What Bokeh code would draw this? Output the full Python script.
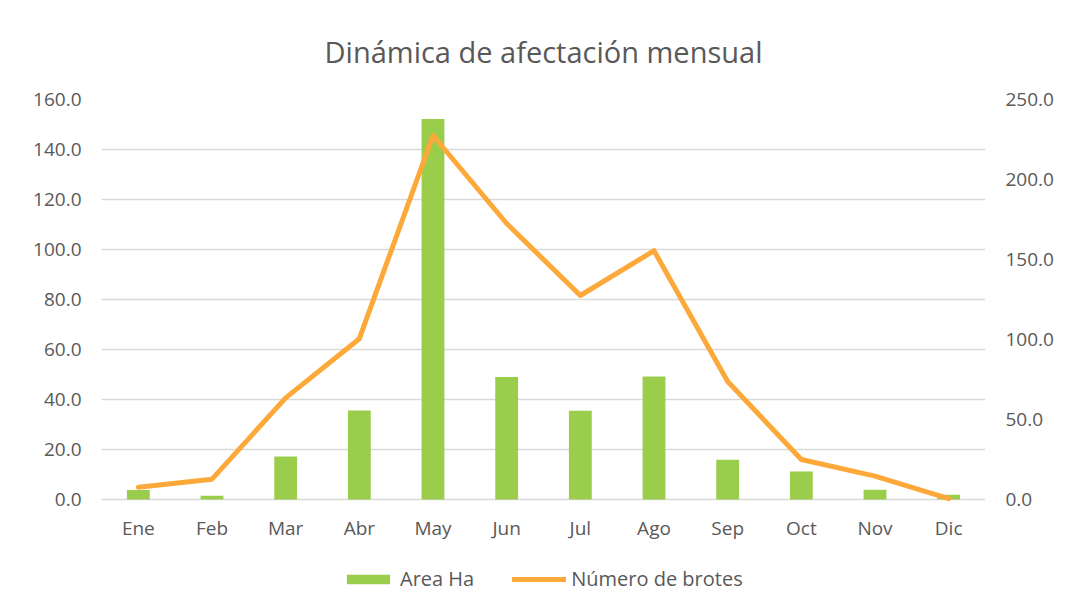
from bokeh.plotting import figure
from bokeh.models import (Range1d, LinearAxis, FixedTicker, NumeralTickFormatter,
                          Legend, LegendItem, ColumnDataSource, FactorRange, Title)
from bokeh.core.properties import value
from bokeh.embed import file_html
from bokeh.resources import INLINE

months = ["Ene", "Feb", "Mar", "Abr", "May", "Jun", "Jul", "Ago", "Sep", "Oct", "Nov", "Dic"]
area_ha = [3.8, 1.5, 17.2, 35.6, 152.2, 49.0, 35.5, 49.2, 15.9, 11.2, 3.9, 1.9]
num_brotes = [7.7, 12.7, 63.5, 100.5, 227.5, 172.5, 127.5, 155.5, 73.8, 25.0, 14.6, 0.5]
left_ticks = [0, 20, 40, 60, 80, 100, 120, 140, 160]
right_ticks = [0, 50, 100, 150, 200, 250]

FONT = "Open Sans"
TXT = "#595959"
GREEN = "#9BCD4C"
ORANGE = "#FDA93A"

# left axis: 0..160 over 400px; frame extends 100px below zero for labels + legend
LEFT_MIN, LEFT_MAX = -40, 160
RIGHT_MIN, RIGHT_MAX = -62.5, 250
LABEL_Y = -11.2

src = ColumnDataSource(dict(m=months, a=area_ha, b=num_brotes,
                            ly=[LABEL_Y] * len(months)))

p = figure(frame_width=884, frame_height=500, output_backend="svg", toolbar_location=None,
           x_range=FactorRange(*months, range_padding=0), y_range=Range1d(LEFT_MIN, LEFT_MAX),
           min_border_left=101, min_border_right=76, min_border_top=97, min_border_bottom=4)
p.title = None
t = Title(text="Dinámica de afectación mensual", align="center", text_font=FONT,
          text_font_size="29px", text_color=TXT, text_font_style="normal", standoff=58)
p.add_layout(t, "above")

p.extra_y_ranges = {"right": Range1d(RIGHT_MIN, RIGHT_MAX)}
p.outline_line_color = None
p.background_fill_color = "white"
p.border_fill_color = "white"

bars = p.vbar(x="m", top="a", width=0.31, source=src, fill_color=GREEN, line_color=None)
ln = p.line(x="m", y="b", source=src, y_range_name="right", line_color=ORANGE,
            line_width=5, line_cap="round", line_join="round")
p.text(x="m", y="ly", text="m", source=src, text_font=value(FONT), text_font_size="19px",
       text_color=TXT, text_align="center", text_baseline="middle")

p.yaxis[0].ticker = FixedTicker(ticks=left_ticks)
p.yaxis[0].formatter = NumeralTickFormatter(format="0.0")

ra = LinearAxis(y_range_name="right", ticker=FixedTicker(ticks=right_ticks),
                formatter=NumeralTickFormatter(format="0.0"))
p.add_layout(ra, "right")

for ax in [p.yaxis[0], ra]:
    ax.axis_line_color = None
    ax.major_tick_line_color = None
    ax.minor_tick_line_color = None
    ax.major_tick_out = 0
    ax.major_tick_in = 0
    ax.major_label_text_font = FONT
    ax.major_label_text_font_size = "19px"
    ax.major_label_text_color = TXT
p.yaxis[0].major_label_standoff = 20
ra.major_label_standoff = 20
p.xaxis.visible = False

p.xgrid.grid_line_color = None
p.ygrid.grid_line_color = "#D9D9D9"
p.ygrid.grid_line_width = 1.5
p.ygrid.ticker = FixedTicker(ticks=left_ticks)

legend = Legend(items=[LegendItem(label="Area Ha", renderers=[bars]),
                       LegendItem(label="Número de brotes", renderers=[ln])],
                orientation="horizontal", location=(240, 7),
                glyph_width=54, glyph_height=12, label_standoff=5, spacing=38,
                padding=0, margin=0, border_line_color=None, background_fill_alpha=0,
                label_text_font=FONT, label_text_font_size="20px", label_text_color=TXT)
p.add_layout(legend, "center")

open("out.html", "w").write(file_html(p, INLINE))
